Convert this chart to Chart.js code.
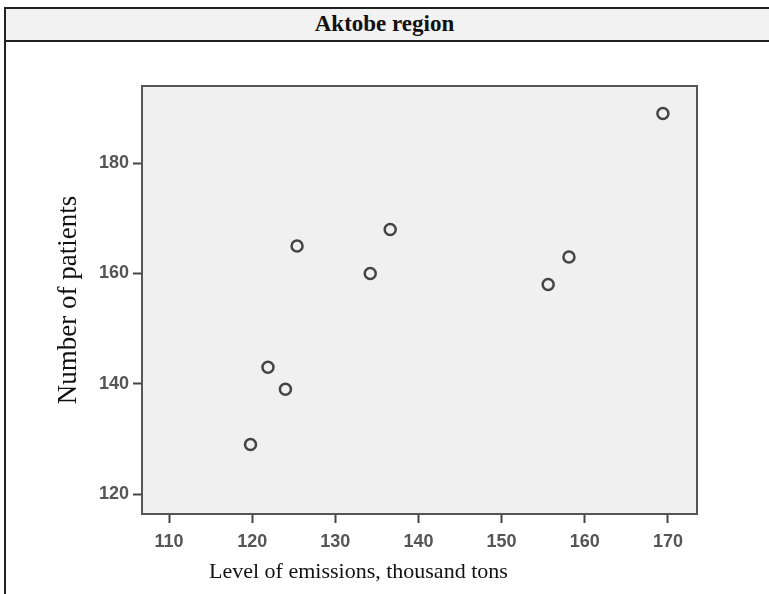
<!DOCTYPE html>
<html>
<head>
<meta charset="utf-8">
<script src="https://cdn.jsdelivr.net/npm/chart.js@4"></script>
<style>
  body { margin: 0; background: #fff; width: 769px; height: 594px; overflow: hidden; position: relative; }
  #frame { position: absolute; left: 4px; top: 7px; width: 800px; height: 600px; border-left: 2px solid #222; border-top: 2px solid #222; }
  #head { position: absolute; left: 6px; top: 9px; width: 800px; height: 31px; background: #f2f2f3; border-bottom: 2px solid #222; }
  #head span { position: absolute; left: 0; width: 757px; top: 2px; text-align: center; font: bold 23px "Liberation Serif", serif; color: #111; }
  #chart { position: absolute; left: 0; top: 0; }
</style>
</head>
<body>
<div id="frame"></div>
<div id="head"><span>Aktobe region</span></div>
<canvas id="chart" width="769" height="594"></canvas>
<script>
// --- DONNÉES ---
const emissions = [119.8, 121.9, 124.0, 125.4, 134.2, 136.6, 155.6, 158.1, 169.4];
const patients  = [129, 143, 139, 165, 160, 168, 158, 163, 189];
const xTicks = [110, 120, 130, 140, 150, 160, 170];
const yTicks = [120, 140, 160, 180];
const xTitle = 'Level of emissions, thousand tons';
const yTitle = 'Number of patients';

// fond gris + cadre autour de la zone du graphique
const plotFrame = {
    id: 'plotFrame',
    beforeDatasetsDraw(chart) {
        const {ctx, chartArea: a} = chart;
        ctx.save();
        ctx.fillStyle = '#f0f0f0';
        ctx.fillRect(a.left, a.top, a.right - a.left, a.bottom - a.top);
        ctx.restore();
    },
    afterDatasetsDraw(chart) {
        const {ctx, chartArea: a} = chart;
        ctx.save();
        ctx.strokeStyle = '#555';
        ctx.lineWidth = 2;
        ctx.strokeRect(a.left, a.top, a.right - a.left, a.bottom - a.top);
        // titre de l'axe x (décalé à gauche comme dans l'original)
        ctx.fillStyle = '#111';
        ctx.font = '22px "Liberation Serif", serif';
        ctx.textBaseline = 'alphabetic';
        ctx.fillText(xTitle, a.left + 67, a.bottom + 64);
        ctx.restore();
    }
};

const tickFont = { family: 'Liberation Sans, Arial, sans-serif', size: 18, weight: 'bold' };

new Chart(document.getElementById('chart'), {
    type: 'scatter',
    data: {
        datasets: [{
            data: emissions.map((e, i) => ({x: e, y: patients[i]})),
            pointRadius: 5.5,
            pointBorderWidth: 2.5,
            pointBorderColor: '#444',
            pointBackgroundColor: 'rgba(0,0,0,0)',
            pointHoverRadius: 5.5
        }]
    },
    options: {
        responsive: false,
        animation: false,
        devicePixelRatio: 1,
        layout: { padding: { left: 53, top: 86, right: 72, bottom: 40 } },
        plugins: { legend: { display: false }, tooltip: { enabled: false } },
        scales: {
            x: {
                type: 'linear',
                min: 106.75, max: 173.5,
                afterBuildTicks: s => { s.ticks = xTicks.map(v => ({value: v})); },
                afterFit: s => { s.height = 40; },
                ticks: { color: '#555', font: tickFont, padding: 8, maxRotation: 0, autoSkip: false },
                grid: { drawOnChartArea: false, tickLength: 9, tickWidth: 2, tickColor: '#444' },
                border: { display: false }
            },
            y: {
                type: 'linear',
                min: 116.4, max: 194,
                afterBuildTicks: s => { s.ticks = yTicks.map(v => ({value: v})); },
                afterFit: s => { s.width = 89; },
                ticks: { color: '#555', font: tickFont, padding: 4, autoSkip: false },
                grid: { drawOnChartArea: false, tickLength: 9, tickWidth: 2, tickColor: '#444' },
                border: { display: false },
                title: { display: true, text: yTitle, color: '#111',
                         font: { family: 'Liberation Serif, serif', size: 27 }, padding: 0 }
            }
        }
    },
    plugins: [plotFrame]
});
</script>
</body>
</html>
